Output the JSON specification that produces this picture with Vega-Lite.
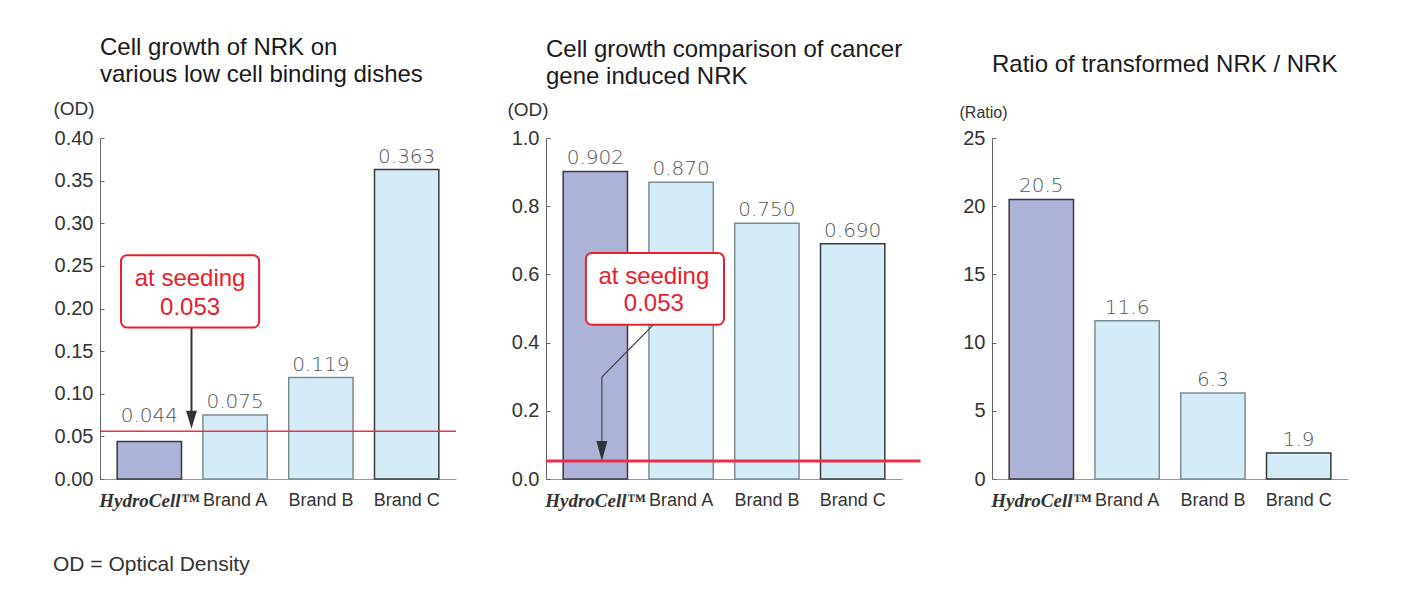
{
  "$schema": "https://vega.github.io/schema/vega-lite/v6.json",
  "background": "white",
  "padding": {"left": 53, "top": 36, "right": 5, "bottom": 5},
  "bounds": "flush",
  "spacing": 90,
  "title": {
    "text": "OD = Optical Density",
    "orient": "bottom",
    "anchor": "start",
    "frame": "bounds",
    "font": "Liberation Sans",
    "fontSize": 21,
    "fontWeight": "normal",
    "color": "#333",
    "offset": 44
  },
  "hconcat": [
    {
      "width": 356,
      "height": 341,
      "title": {"text": ["Cell growth of NRK on", "various low cell binding dishes"], "offset": 12},
      "layer": [
        {
          "data": {"values": [
            {"brand": "HydroCell™", "value": 0.044},
            {"brand": "Brand A", "value": 0.075},
            {"brand": "Brand B", "value": 0.119},
            {"brand": "Brand C", "value": 0.363}
          ]},
          "layer": [
            {
              "mark": {"type": "bar", "strokeWidth": 1.5},
              "encoding": {
                "x": {
                  "field": "brand", "type": "nominal", "sort": null, "title": null,
                  "scale": {"paddingInner": 0.25, "paddingOuter": 0.2},
                  "axis": {
                    "labelAngle": 0, "ticks": false, "domainColor": "#999", "labelPadding": 12,
                    "labelFont": {"condition": {"test": "datum.value === 'HydroCell™'", "value": "Liberation Serif"}, "value": "Liberation Sans"},
                    "labelFontStyle": {"condition": {"test": "datum.value === 'HydroCell™'", "value": "italic"}, "value": "normal"},
                    "labelFontWeight": {"condition": {"test": "datum.value === 'HydroCell™'", "value": "bold"}, "value": "normal"},
                    "labelFontSize": {"condition": {"test": "datum.value === 'HydroCell™'", "value": 19}, "value": 18}
                  }
                },
                "y": {
                  "field": "value", "type": "quantitative",
                  "scale": {"domain": [0, 0.4], "nice": false},
                  "axis": {
                    "title": "(OD)", "titleAngle": 0, "titleAlign": "left", "titleBaseline": "middle",
                    "titleX": -47, "titleY": -30, "titleFontSize": 19,
                    "values": [0, 0.05, 0.1, 0.15, 0.2, 0.25, 0.3, 0.35, 0.4], "format": ".2f"
                  }
                },
                "fill": {"field": "brand", "type": "nominal", "legend": null,
                  "scale": {"domain": ["HydroCell™", "Brand A", "Brand B", "Brand C"], "range": ["#adb2d8", "#d3ecf8", "#d3ecf8", "#d3ecf8"]}},
                "stroke": {"field": "brand", "type": "nominal", "legend": null,
                  "scale": {"domain": ["HydroCell™", "Brand A", "Brand B", "Brand C"], "range": ["#3a3a3a", "#7d8b92", "#7d8b92", "#3a3a3a"]}}
              }
            },
            {
              "transform": [{"filter": "datum.brand !== 'HydroCell™'"}],
              "mark": {"type": "text", "font": "DejaVu Sans", "fontWeight": 200, "fontSize": 20, "color": "#555", "baseline": "alphabetic", "dy": -7},
              "encoding": {
                "x": {"field": "brand", "type": "nominal", "sort": null},
                "y": {"field": "value", "type": "quantitative"},
                "text": {"field": "value", "type": "quantitative", "format": ".3f"}
              }
            },
            {
              "transform": [{"filter": "datum.brand === 'HydroCell™'"}],
              "mark": {"type": "text", "font": "DejaVu Sans", "fontWeight": 200, "fontSize": 20, "color": "#555", "baseline": "alphabetic", "dy": -19},
              "encoding": {
                "x": {"field": "brand", "type": "nominal", "sort": null},
                "y": {"field": "value", "type": "quantitative"},
                "text": {"field": "value", "type": "quantitative", "format": ".3f"}
              }
            },
            {
              "data": {"values": [{"value": 0.056}]},
              "mark": {"type": "rule", "color": "#e8304a", "strokeWidth": 1.5},
              "encoding": {"y": {"field": "value", "type": "quantitative"}}
            }
          ]
        },
        {
          "data": {"values": [{"px": 0.257, "value": 0.1776, "value2": 0.078}]},
          "mark": {"type": "rule", "color": "#333", "strokeWidth": 2},
          "encoding": {
            "x": {"field": "px", "type": "quantitative", "scale": {"domain": [0, 1]}, "axis": null},
            "y": {"field": "value", "type": "quantitative"},
            "y2": {"field": "value2"}
          }
        },
        {
          "data": {"values": [{"px": 0.257, "value": 0.0694}]},
          "mark": {"type": "point", "shape": "M-0.6,-1L0.6,-1L0,1Z", "size": 324, "filled": true, "color": "#333", "opacity": 1},
          "encoding": {
            "x": {"field": "px", "type": "quantitative", "scale": {"domain": [0, 1]}, "axis": null},
            "y": {"field": "value", "type": "quantitative"}
          }
        },
        {
          "data": {"values": [{"px": 0.059, "px2": 0.447, "value": 0.1776, "value2": 0.2624}]},
          "mark": {"type": "rect", "fill": "white", "stroke": "#e8202e", "strokeWidth": 2, "cornerRadius": 6},
          "encoding": {
            "x": {"field": "px", "type": "quantitative", "scale": {"domain": [0, 1]}, "axis": null},
            "x2": {"field": "px2"},
            "y": {"field": "value", "type": "quantitative"},
            "y2": {"field": "value2"}
          }
        },
        {
          "data": {"values": [
            {"px": 0.253, "value": 0.235, "label": "at seeding"},
            {"px": 0.253, "value": 0.201, "label": "0.053"}
          ]},
          "mark": {"type": "text", "font": "Liberation Sans", "fontSize": 24, "color": "#e8202e", "baseline": "middle"},
          "encoding": {
            "x": {"field": "px", "type": "quantitative", "scale": {"domain": [0, 1]}, "axis": null},
            "y": {"field": "value", "type": "quantitative"},
            "text": {"field": "label"}
          }
        }
      ],
      "resolve": {"scale": {"x": "independent"}}
    },
    {
      "width": 356,
      "height": 341,
      "title": {"text": ["Cell growth comparison of cancer", "gene induced NRK"], "offset": 11},
      "layer": [
        {
          "data": {"values": [
            {"brand": "HydroCell™", "value": 0.902},
            {"brand": "Brand A", "value": 0.870},
            {"brand": "Brand B", "value": 0.750},
            {"brand": "Brand C", "value": 0.690}
          ]},
          "layer": [
            {
              "mark": {"type": "bar", "strokeWidth": 1.5},
              "encoding": {
                "x": {
                  "field": "brand", "type": "nominal", "sort": null, "title": null,
                  "scale": {"paddingInner": 0.25, "paddingOuter": 0.2},
                  "axis": {
                    "labelAngle": 0, "ticks": false, "domainColor": "#999", "labelPadding": 12,
                    "labelFont": {"condition": {"test": "datum.value === 'HydroCell™'", "value": "Liberation Serif"}, "value": "Liberation Sans"},
                    "labelFontStyle": {"condition": {"test": "datum.value === 'HydroCell™'", "value": "italic"}, "value": "normal"},
                    "labelFontWeight": {"condition": {"test": "datum.value === 'HydroCell™'", "value": "bold"}, "value": "normal"},
                    "labelFontSize": {"condition": {"test": "datum.value === 'HydroCell™'", "value": 19}, "value": 18}
                  }
                },
                "y": {
                  "field": "value", "type": "quantitative",
                  "scale": {"domain": [0, 1], "nice": false},
                  "axis": {
                    "title": "(OD)", "titleAngle": 0, "titleAlign": "left", "titleBaseline": "middle",
                    "titleX": -39, "titleY": -29, "titleFontSize": 19,
                    "values": [0, 0.2, 0.4, 0.6, 0.8, 1.0], "format": ".1f"
                  }
                },
                "fill": {"field": "brand", "type": "nominal", "legend": null,
                  "scale": {"domain": ["HydroCell™", "Brand A", "Brand B", "Brand C"], "range": ["#adb2d8", "#d3ecf8", "#d3ecf8", "#d3ecf8"]}},
                "stroke": {"field": "brand", "type": "nominal", "legend": null,
                  "scale": {"domain": ["HydroCell™", "Brand A", "Brand B", "Brand C"], "range": ["#3a3a3a", "#7d8b92", "#7d8b92", "#3a3a3a"]}}
              }
            },
            {
              "mark": {"type": "text", "font": "DejaVu Sans", "fontWeight": 200, "fontSize": 20, "color": "#555", "baseline": "alphabetic", "dy": -7},
              "encoding": {
                "x": {"field": "brand", "type": "nominal", "sort": null},
                "y": {"field": "value", "type": "quantitative"},
                "text": {"field": "value", "type": "quantitative", "format": ".3f"}
              }
            }
          ]
        },
        {
          "data": {"values": [{"px": 0, "px2": 1.052, "value": 0.053}]},
          "mark": {"type": "rule", "color": "#e8304a", "strokeWidth": 3},
          "encoding": {
            "x": {"field": "px", "type": "quantitative", "scale": {"domain": [0, 1]}, "axis": null},
            "x2": {"field": "px2"},
            "y": {"field": "value", "type": "quantitative"}
          }
        },
        {
          "data": {"values": [
            {"i": 1, "px": 0.301, "value": 0.452},
            {"i": 2, "px": 0.157, "value": 0.299},
            {"i": 3, "px": 0.157, "value": 0.1}
          ]},
          "mark": {"type": "line", "color": "#444", "strokeWidth": 1.2},
          "encoding": {
            "x": {"field": "px", "type": "quantitative", "scale": {"domain": [0, 1]}, "axis": null},
            "y": {"field": "value", "type": "quantitative"},
            "order": {"field": "i"}
          }
        },
        {
          "data": {"values": [{"px": 0.157, "value": 0.082}]},
          "mark": {"type": "point", "shape": "M-0.55,-1L0.55,-1L0,1Z", "size": 400, "filled": true, "color": "#333", "opacity": 1},
          "encoding": {
            "x": {"field": "px", "type": "quantitative", "scale": {"domain": [0, 1]}, "axis": null},
            "y": {"field": "value", "type": "quantitative"}
          }
        },
        {
          "data": {"values": [{"px": 0.112, "px2": 0.5, "value": 0.452, "value2": 0.663}]},
          "mark": {"type": "rect", "fill": "white", "stroke": "#e8202e", "strokeWidth": 2, "cornerRadius": 6},
          "encoding": {
            "x": {"field": "px", "type": "quantitative", "scale": {"domain": [0, 1]}, "axis": null},
            "x2": {"field": "px2"},
            "y": {"field": "value", "type": "quantitative"},
            "y2": {"field": "value2"}
          }
        },
        {
          "data": {"values": [
            {"px": 0.303, "value": 0.592, "label": "at seeding"},
            {"px": 0.303, "value": 0.513, "label": "0.053"}
          ]},
          "mark": {"type": "text", "font": "Liberation Sans", "fontSize": 24, "color": "#e8202e", "baseline": "middle"},
          "encoding": {
            "x": {"field": "px", "type": "quantitative", "scale": {"domain": [0, 1]}, "axis": null},
            "y": {"field": "value", "type": "quantitative"},
            "text": {"field": "label"}
          }
        }
      ],
      "resolve": {"scale": {"x": "independent"}}
    },
    {
      "width": 356,
      "height": 341,
      "title": {"text": "Ratio of transformed NRK / NRK", "offset": 27},
      "data": {"values": [
        {"brand": "HydroCell™", "value": 20.5},
        {"brand": "Brand A", "value": 11.6},
        {"brand": "Brand B", "value": 6.3},
        {"brand": "Brand C", "value": 1.9}
      ]},
      "layer": [
        {
          "mark": {"type": "bar", "strokeWidth": 1.5},
          "encoding": {
            "x": {
              "field": "brand", "type": "nominal", "sort": null, "title": null,
              "scale": {"paddingInner": 0.25, "paddingOuter": 0.2},
              "axis": {
                "labelAngle": 0, "ticks": false, "domainColor": "#999", "labelPadding": 12,
                "labelFont": {"condition": {"test": "datum.value === 'HydroCell™'", "value": "Liberation Serif"}, "value": "Liberation Sans"},
                "labelFontStyle": {"condition": {"test": "datum.value === 'HydroCell™'", "value": "italic"}, "value": "normal"},
                "labelFontWeight": {"condition": {"test": "datum.value === 'HydroCell™'", "value": "bold"}, "value": "normal"},
                "labelFontSize": {"condition": {"test": "datum.value === 'HydroCell™'", "value": 19}, "value": 18}
              }
            },
            "y": {
              "field": "value", "type": "quantitative",
              "scale": {"domain": [0, 25], "nice": false},
              "axis": {
                "title": "(Ratio)", "titleAngle": 0, "titleAlign": "left", "titleBaseline": "middle",
                "titleX": -33, "titleY": -26, "titleFontSize": 16,
                "values": [0, 5, 10, 15, 20, 25], "format": "d"
              }
            },
            "fill": {"field": "brand", "type": "nominal", "legend": null,
              "scale": {"domain": ["HydroCell™", "Brand A", "Brand B", "Brand C"], "range": ["#adb2d8", "#d3ecf8", "#d3ecf8", "#d3ecf8"]}},
            "stroke": {"field": "brand", "type": "nominal", "legend": null,
              "scale": {"domain": ["HydroCell™", "Brand A", "Brand B", "Brand C"], "range": ["#3a3a3a", "#7d8b92", "#7d8b92", "#3a3a3a"]}}
          }
        },
        {
          "mark": {"type": "text", "font": "DejaVu Sans", "fontWeight": 200, "fontSize": 20, "color": "#555", "baseline": "alphabetic", "dy": -7},
          "encoding": {
            "x": {"field": "brand", "type": "nominal", "sort": null},
            "y": {"field": "value", "type": "quantitative"},
            "text": {"field": "value", "type": "quantitative", "format": ".1f"}
          }
        }
      ]
    }
  ],
  "config": {
    "view": {"stroke": null},
    "title": {"font": "Liberation Sans", "fontSize": 24, "fontWeight": "normal", "color": "#1a1a1a", "anchor": "start", "frame": "group", "lineHeight": 27},
    "axis": {
      "labelFont": "Liberation Sans", "labelFontSize": 18, "labelColor": "#333",
      "titleFont": "Liberation Sans", "titleFontWeight": "normal", "titleColor": "#333",
      "domainColor": "#666", "tickColor": "#666", "grid": false
    },
    "axisY": {"tickSize": -4, "labelPadding": 11, "labelFontSize": 20}
  }
}
